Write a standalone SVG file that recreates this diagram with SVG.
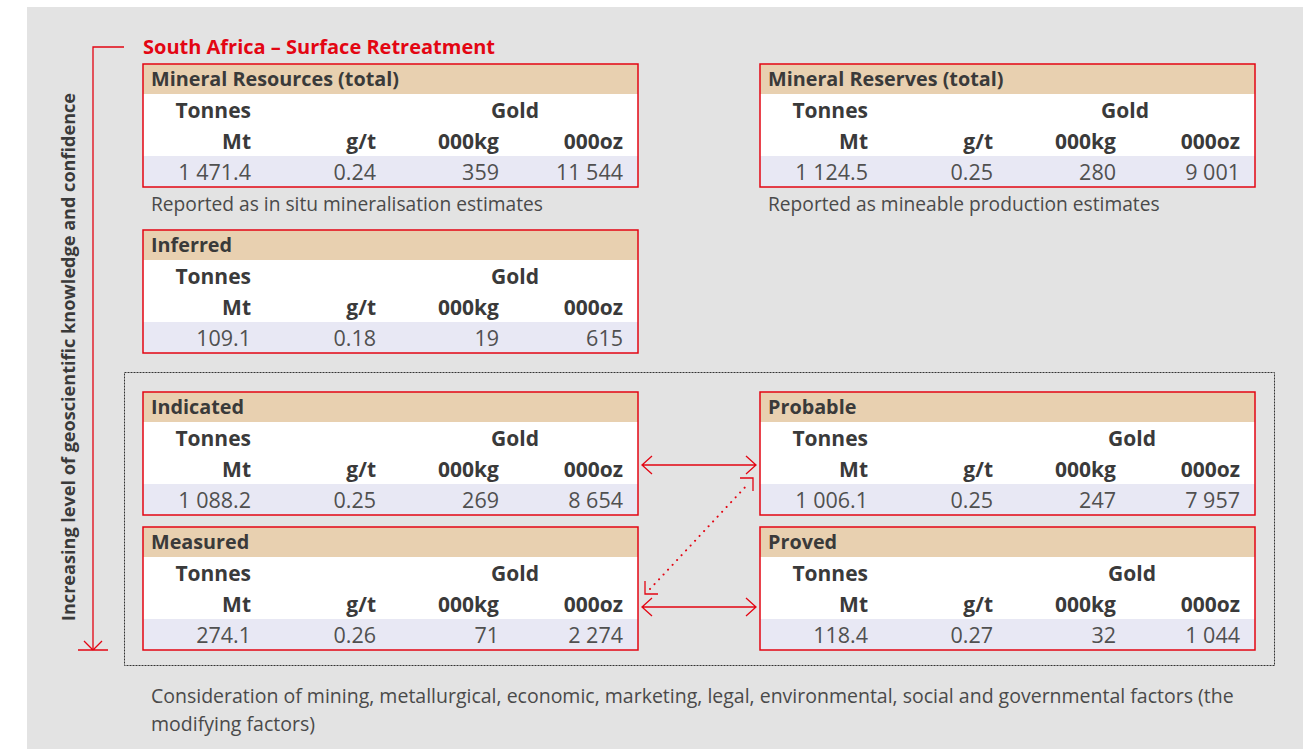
<svg xmlns="http://www.w3.org/2000/svg" width="1303" height="749" viewBox="0 0 1303 749">
<style>
.hd{fill:#e8d0b0}
.wh{fill:#ffffff}
.vr{fill:#e8e8f4}
.bd{fill:none;stroke:#e30613;stroke-width:1.5}
text{font-family:"Open Sans","Noto Sans","Liberation Sans",sans-serif}
.t{font-size:19.8px;font-weight:bold;fill:#3a3a3a}
.h{font-size:21px;font-weight:bold;fill:#3a3a3a;text-anchor:end}
.v{font-size:21.5px;fill:#505050;text-anchor:end}
.n{font-size:19.2px;fill:#4a4a4a}
.b{font-size:19.5px;fill:#4a4a4a}
.ar{fill:none;stroke:#e30613;stroke-width:1.3}
</style>
<rect x="27" y="7" width="1276" height="742" fill="#e3e3e3"/>
<text x="143" y="54" style="font-size:20px;font-weight:bold;fill:#e30613">South Africa – Surface Retreatment</text>
<g id="axis">
<path class="ar" d="M124,47 H93 V650"/>
<path class="ar" d="M84,641 L93,650 L102,641 M78,650 H108"/>
<text transform="translate(75,357) rotate(-90)" text-anchor="middle" style="font-size:18.1px;font-weight:bold;fill:#3a3a3a">Increasing level of geoscientific knowledge and confidence</text>
</g>
<rect x="124.5" y="372.5" width="1150" height="293" fill="none" stroke="#333" stroke-width="1" stroke-dasharray="2 1"/>
<g id="resources">
<rect class="hd" x="143" y="64" width="495" height="30"/><rect class="wh" x="143" y="94" width="495" height="62"/><rect class="vr" x="143" y="156" width="495" height="31"/><rect class="bd" x="143" y="64" width="495" height="123"/>
<text class="t" x="151" y="86">Mineral Resources (total)</text>
<text class="h" x="251" y="118">Tonnes</text><text class="h" x="539" y="118">Gold</text>
<text class="h" x="251" y="149">Mt</text><text class="h" x="376" y="149">g/t</text><text class="h" x="499" y="149">000kg</text><text class="h" x="623" y="149">000oz</text>
<text class="v" x="251" y="180">1 471.4</text><text class="v" x="376" y="180">0.24</text><text class="v" x="499" y="180">359</text><text class="v" x="623" y="180">11 544</text>
<text class="n" x="151" y="211">Reported as in situ mineralisation estimates</text>
</g>
<g id="reserves">
<rect class="hd" x="760" y="64" width="495" height="30"/><rect class="wh" x="760" y="94" width="495" height="62"/><rect class="vr" x="760" y="156" width="495" height="31"/><rect class="bd" x="760" y="64" width="495" height="123"/>
<text class="t" x="768" y="86">Mineral Reserves (total)</text>
<text class="h" x="868" y="118">Tonnes</text><text class="h" x="1149" y="118">Gold</text>
<text class="h" x="868" y="149">Mt</text><text class="h" x="993" y="149">g/t</text><text class="h" x="1116" y="149">000kg</text><text class="h" x="1240" y="149">000oz</text>
<text class="v" x="868" y="180">1 124.5</text><text class="v" x="993" y="180">0.25</text><text class="v" x="1116" y="180">280</text><text class="v" x="1240" y="180">9 001</text>
<text class="n" x="768" y="211">Reported as mineable production estimates</text>
</g>
<g id="inferred">
<rect class="hd" x="143" y="230" width="495" height="30"/><rect class="wh" x="143" y="260" width="495" height="62"/><rect class="vr" x="143" y="322" width="495" height="31"/><rect class="bd" x="143" y="230" width="495" height="123"/>
<text class="t" x="151" y="252">Inferred</text>
<text class="h" x="251" y="284">Tonnes</text><text class="h" x="539" y="284">Gold</text>
<text class="h" x="251" y="315">Mt</text><text class="h" x="376" y="315">g/t</text><text class="h" x="499" y="315">000kg</text><text class="h" x="623" y="315">000oz</text>
<text class="v" x="251" y="346">109.1</text><text class="v" x="376" y="346">0.18</text><text class="v" x="499" y="346">19</text><text class="v" x="623" y="346">615</text>
</g>
<g id="indicated">
<rect class="hd" x="143" y="392" width="495" height="30"/><rect class="wh" x="143" y="422" width="495" height="62"/><rect class="vr" x="143" y="484" width="495" height="31"/><rect class="bd" x="143" y="392" width="495" height="123"/>
<text class="t" x="151" y="414">Indicated</text>
<text class="h" x="251" y="446">Tonnes</text><text class="h" x="539" y="446">Gold</text>
<text class="h" x="251" y="477">Mt</text><text class="h" x="376" y="477">g/t</text><text class="h" x="499" y="477">000kg</text><text class="h" x="623" y="477">000oz</text>
<text class="v" x="251" y="508">1 088.2</text><text class="v" x="376" y="508">0.25</text><text class="v" x="499" y="508">269</text><text class="v" x="623" y="508">8 654</text>
</g>
<g id="measured">
<rect class="hd" x="143" y="527" width="495" height="30"/><rect class="wh" x="143" y="557" width="495" height="62"/><rect class="vr" x="143" y="619" width="495" height="31"/><rect class="bd" x="143" y="527" width="495" height="123"/>
<text class="t" x="151" y="549">Measured</text>
<text class="h" x="251" y="581">Tonnes</text><text class="h" x="539" y="581">Gold</text>
<text class="h" x="251" y="612">Mt</text><text class="h" x="376" y="612">g/t</text><text class="h" x="499" y="612">000kg</text><text class="h" x="623" y="612">000oz</text>
<text class="v" x="251" y="643">274.1</text><text class="v" x="376" y="643">0.26</text><text class="v" x="499" y="643">71</text><text class="v" x="623" y="643">2 274</text>
</g>
<g id="probable">
<rect class="hd" x="760" y="392" width="495" height="30"/><rect class="wh" x="760" y="422" width="495" height="62"/><rect class="vr" x="760" y="484" width="495" height="31"/><rect class="bd" x="760" y="392" width="495" height="123"/>
<text class="t" x="768" y="414">Probable</text>
<text class="h" x="868" y="446">Tonnes</text><text class="h" x="1156" y="446">Gold</text>
<text class="h" x="868" y="477">Mt</text><text class="h" x="993" y="477">g/t</text><text class="h" x="1116" y="477">000kg</text><text class="h" x="1240" y="477">000oz</text>
<text class="v" x="868" y="508">1 006.1</text><text class="v" x="993" y="508">0.25</text><text class="v" x="1116" y="508">247</text><text class="v" x="1240" y="508">7 957</text>
</g>
<g id="proved">
<rect class="hd" x="760" y="527" width="495" height="30"/><rect class="wh" x="760" y="557" width="495" height="62"/><rect class="vr" x="760" y="619" width="495" height="31"/><rect class="bd" x="760" y="527" width="495" height="123"/>
<text class="t" x="768" y="549">Proved</text>
<text class="h" x="868" y="581">Tonnes</text><text class="h" x="1156" y="581">Gold</text>
<text class="h" x="868" y="612">Mt</text><text class="h" x="993" y="612">g/t</text><text class="h" x="1116" y="612">000kg</text><text class="h" x="1240" y="612">000oz</text>
<text class="v" x="868" y="643">118.4</text><text class="v" x="993" y="643">0.27</text><text class="v" x="1116" y="643">32</text><text class="v" x="1240" y="643">1 044</text>
</g>
<g id="connectors">
<path class="ar" d="M642,465 H756 M652,456 L642,465 L652,474 M746,456 L756,465 L746,474"/>
<path class="ar" d="M642,607 H756 M652,598 L642,607 L652,616 M746,598 L756,607 L746,616"/>
<path d="M650,589 L749,483" fill="none" stroke="#e30613" stroke-width="2" stroke-linecap="round" stroke-dasharray="0.1 6.5"/>
<path class="ar" d="M740,478 H753 V491 M645,581 V594 H658"/>
</g>
<text class="b" x="151" y="703">Consideration of mining, metallurgical, economic, marketing, legal, environmental, social and governmental factors (the</text>
<text class="b" x="151" y="731">modifying factors)</text>
</svg>
